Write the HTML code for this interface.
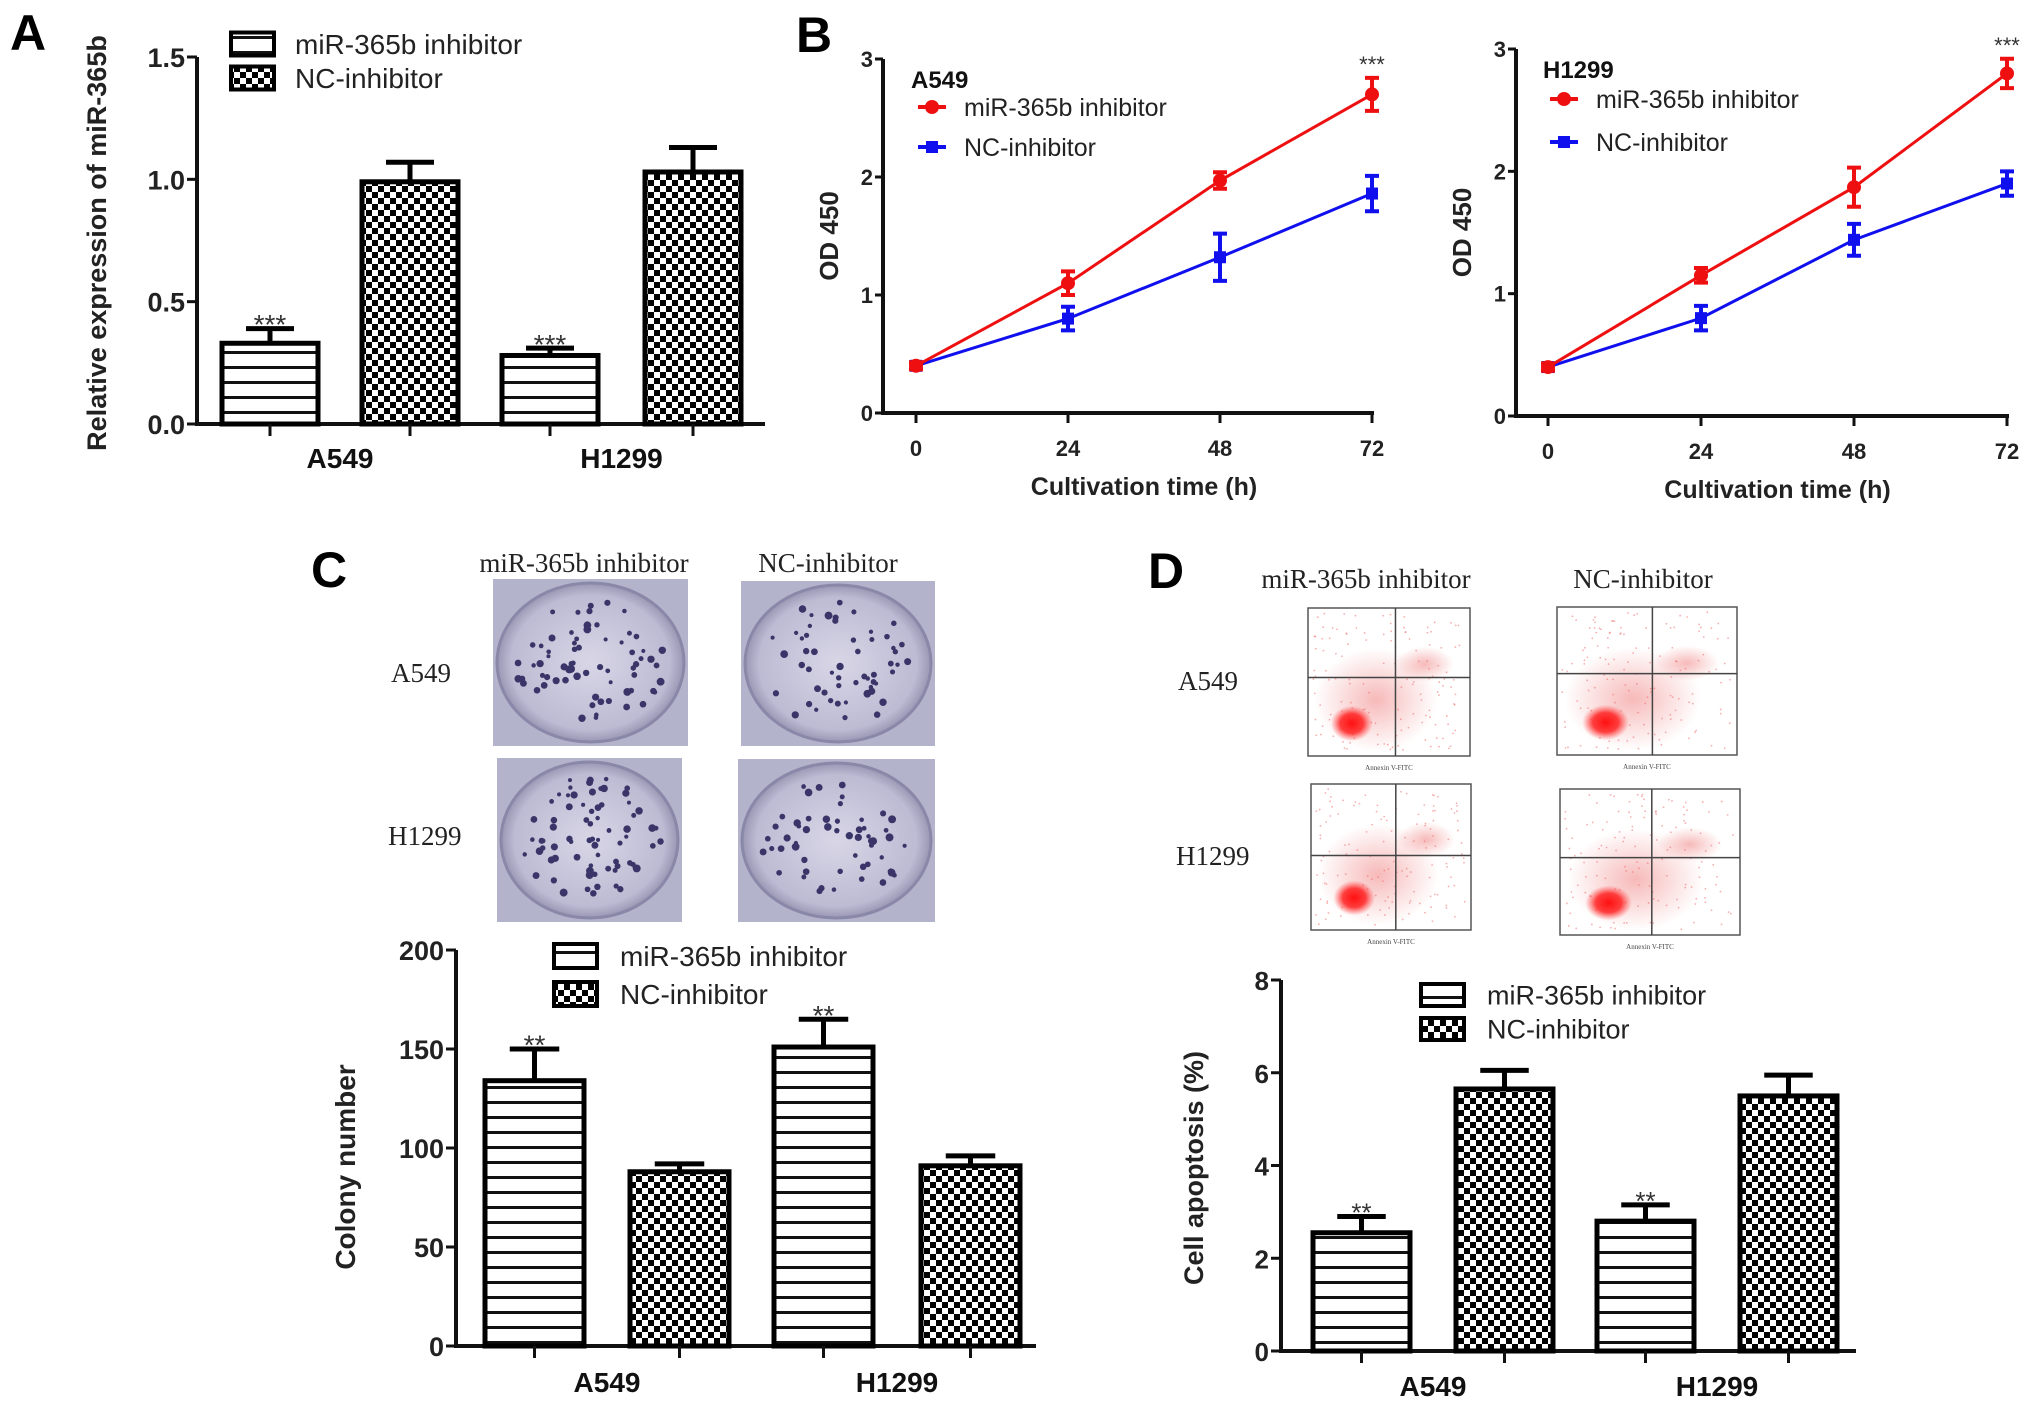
<!DOCTYPE html>
<html><head><meta charset="utf-8"><style>
body{margin:0;background:#fff;}
svg{display:block;font-family:"Liberation Sans",Arial,sans-serif;}
.lab{font-weight:bold;}
.serif{font-family:"Liberation Serif",serif;}
</style></head><body>
<svg id="fig" width="2031" height="1407" viewBox="0 0 2031 1407">
<defs>
<pattern id="hstripe" width="10" height="15" patternUnits="userSpaceOnUse"><rect width="10" height="15" fill="#fff"/><rect y="6" width="10" height="3" fill="#111"/></pattern>
<pattern id="check" width="12" height="12" patternUnits="userSpaceOnUse"><rect width="12" height="12" fill="#fff"/><rect width="6" height="6" fill="#000"/><rect x="6" y="6" width="6" height="6" fill="#000"/></pattern>
<radialGradient id="blob"><stop offset="0" stop-color="#ff1010"/><stop offset="0.55" stop-color="#ff2a2a" stop-opacity="0.9"/><stop offset="1" stop-color="#ff5050" stop-opacity="0"/></radialGradient>
<radialGradient id="haze"><stop offset="0" stop-color="#f08080" stop-opacity="0.55"/><stop offset="1" stop-color="#f08080" stop-opacity="0"/></radialGradient>
<radialGradient id="plate"><stop offset="0" stop-color="#d8d6e6"/><stop offset="0.85" stop-color="#bdbbd3"/><stop offset="1" stop-color="#9896b2"/></radialGradient>
</defs>
<g id="root"></g>
</svg>
<script>
// ---------- data ----------
const barCategories = ["A549", "H1299"];
const barSeries = ["miR-365b inhibitor", "NC-inhibitor"];
const aInhibitor = [0.33, 0.28];
const aInhibitorErr = [0.06, 0.03];
const aNC = [0.99, 1.03];
const aNCErr = [0.08, 0.10];
const aTicks = [0.0, 0.5, 1.0, 1.5];
const aTickLabels = ["0.0", "0.5", "1.0", "1.5"];
const aStars = ["***", "***"];

const cInhibitor = [134, 151];
const cInhibitorErr = [16, 14];
const cNC = [88, 91];
const cNCErr = [4, 5];
const cTicks = [0, 50, 100, 150, 200];
const cStars = ["**", "**"];

const dInhibitor = [2.55, 2.8];
const dInhibitorErr = [0.35, 0.35];
const dNC = [5.65, 5.5];
const dNCErr = [0.4, 0.45];
const dTicks = [0, 2, 4, 6, 8];
const dStars = ["**", "**"];

const timePoints = [0, 24, 48, 72];
const odTicks = [0, 1, 2, 3];
const bA549Inhibitor = [0.4, 1.1, 1.97, 2.7];
const bA549InhibitorErr = [0.03, 0.1, 0.07, 0.14];
const bA549NC = [0.4, 0.8, 1.32, 1.86];
const bA549NCErr = [0.03, 0.1, 0.2, 0.15];
const bH1299Inhibitor = [0.4, 1.15, 1.87, 2.8];
const bH1299InhibitorErr = [0.03, 0.06, 0.16, 0.12];
const bH1299NC = [0.4, 0.8, 1.44, 1.9];
const bH1299NCErr = [0.03, 0.1, 0.13, 0.1];

// ---------- helpers ----------
const NS = "http://www.w3.org/2000/svg";
const root = document.getElementById("root");
function mk(tag, attrs, parent, text){
  const e = document.createElementNS(NS, tag);
  for (const k in attrs) e.setAttribute(k, attrs[k]);
  if (text !== undefined) e.textContent = text;
  (parent || root).appendChild(e);
  return e;
}

function barChart(o){
  const g = mk("g", {});
  
  
  const y = v => o.y0 - (v - o.ymin) / (o.ymax - o.ymin) * (o.y0 - o.ytop);
  const ax = mk("path", {d:`M${o.x0} ${o.ytop} V${o.y0} H${o.xend}`, stroke:"#111", "stroke-width":4, fill:"none"}, g);
  
  
  o.ticks.forEach((t, i) => {
    const yy = y(t);
    const tk = mk("line", {x1:o.x0 - 10, x2:o.x0, y1:yy, y2:yy, stroke:"#111", "stroke-width":3}, g);
    
    
    const tl = mk("text", {x:o.x0 - 12, y:yy + 10, "text-anchor":"end", "font-size":o.tickFs, class:"lab", fill:"#222"}, g, o.tickLabels ? o.tickLabels[i] : String(t));
    
    
  });
  const series = [[o.s1, o.e1, "url(#hstripe)"], [o.s2, o.e2, "url(#check)"]];
  o.cats.forEach((c, ci) => {
    series.forEach((s, si) => {
      const xl = o.barX[ci * 2 + si];
      const cx = xl + o.bw / 2;
      const top = y(s[0][ci]), et = y(s[0][ci] + s[1][ci]);
      const bar = mk("rect", {x:xl, y:top, width:o.bw, height:o.y0 - top, fill:s[2], stroke:"#000", "stroke-width":5}, g);
      
      
      const eb = mk("path", {d:`M${cx} ${top} V${et} M${cx - o.bw * 0.25} ${et} H${cx + o.bw * 0.25}`, stroke:"#000", "stroke-width":5, fill:"none"}, g);
      
      
      const xt = mk("line", {x1:cx, x2:cx, y1:o.y0, y2:o.y0 + 12, stroke:"#111", "stroke-width":3}, g);
      
      
      if (si === 0) {
        const st = mk("text", {x:cx, y:et + o.starFs * 0.2, "text-anchor":"middle", "font-size":o.starFs, fill:"#333"}, g, o.stars[ci]);
        
        
      }
    });
    const cl = mk("text", {x:(o.barX[ci * 2] + o.barX[ci * 2 + 1] + o.bw) / 2, y:o.catY, "text-anchor":"middle", "font-size":o.catFs, class:"lab", fill:"#111"}, g, c);
    
    
  });
  [["url(#hstripe)", barSeries[0]], ["url(#check)", barSeries[1]]].forEach((l, i) => {
    const ly = o.legY[i];
    const lb = mk("rect", {x:o.legX, y:ly - o.legH / 2, width:o.legW, height:o.legH, fill:l[0], stroke:"#000", "stroke-width":4}, g);
    
    
    const lt = mk("text", {x:o.legTX, y:ly + o.legFs * 0.36, "font-size":o.legFs, fill:"#222"}, g, l[1]);
    
    
  });
  const yt = mk("text", {transform:`translate(${o.titleX},${o.titleY}) rotate(-90)`, "text-anchor":"middle", "font-size":o.titleFs, class:"lab", fill:"#222"}, g, o.title);
  
  
}

function lineChart(o){
  const g = mk("g", {});
  
  
  const X = t => o.xa + (t - 0) / 72 * (o.xb - o.xa);
  const Y = v => o.y0 - v / 3 * (o.y0 - o.y3);
  const ax = mk("path", {d:`M${o.axX} ${o.y3} V${o.y0} H${o.xb + 2}`, stroke:"#111", "stroke-width":4, fill:"none"}, g);
  
  
  odTicks.forEach(t => {
    const tk = mk("line", {x1:o.axX - 8, x2:o.axX, y1:Y(t), y2:Y(t), stroke:"#111", "stroke-width":3}, g);
    
    
    const tl = mk("text", {x:o.axX - 10, y:Y(t) + 8, "text-anchor":"end", "font-size":22, class:"lab", fill:"#222"}, g, String(t));
    
    
  });
  timePoints.forEach(t => {
    const tk = mk("line", {x1:X(t), x2:X(t), y1:o.y0, y2:o.y0 + 10, stroke:"#111", "stroke-width":3}, g);
    
    
    const tl = mk("text", {x:X(t), y:o.y0 + 43, "text-anchor":"middle", "font-size":22, class:"lab", fill:"#222"}, g, String(t));
    
    
  });
  [[o.nc, o.ncE, "#1010ee", "nc"], [o.inh, o.inhE, "#ee1010", "inhibitor"]].forEach(s => {
    const pts = timePoints.map((t, i) => X(t) + "," + Y(s[0][i])).join(" ");
    const pl = mk("polyline", {points:pts, fill:"none", stroke:s[2], "stroke-width":3}, g);
    
    
    timePoints.forEach((t, i) => {
      const cx = X(t), v = s[0][i], e = s[1][i];
      const eb = mk("path", {d:`M${cx} ${Y(v - e)} V${Y(v + e)} M${cx - 7} ${Y(v - e)} H${cx + 7} M${cx - 7} ${Y(v + e)} H${cx + 7}`, stroke:s[2], "stroke-width":4, fill:"none"}, g);
      
      
      let m;
      if (s[3] === "nc") m = mk("rect", {x:cx - 6, y:Y(v) - 6, width:12, height:12, fill:s[2]}, g);
      else m = mk("circle", {cx:cx, cy:Y(v), r:7, fill:s[2]}, g);
      
      
    });
  });
  const st = mk("text", {x:X(72), y:Y(o.inh[3] + o.inhE[3]) - 6, "text-anchor":"middle", "font-size":22, fill:"#333"}, g, "***");
  
  
  const cl = mk("text", {x:o.xa - 5, y:o.labelY, "font-size":24, class:"lab", fill:"#111"}, g, o.cell);
  
  
  [["#ee1010", "miR-365b inhibitor", 0], ["#1010ee", "NC-inhibitor", 1]].forEach(l => {
    const ly = o.legY[l[2]];
    const ln = mk("line", {x1:o.xa + 2, x2:o.xa + 30, y1:ly, y2:ly, stroke:l[0], "stroke-width":4}, g);
    
    
    const mm = l[2] ? mk("rect", {x:o.xa + 10, y:ly - 6, width:12, height:12, fill:l[0]}, g) : mk("circle", {cx:o.xa + 16, cy:ly, r:7, fill:l[0]}, g);
    
    
    const lt = mk("text", {x:o.xa + 48, y:ly + 9, "font-size":25, fill:"#222"}, g, l[1]);
    
    
  });
  const xt = mk("text", {x:(o.xa + o.xb) / 2, y:o.y0 + 82, "text-anchor":"middle", "font-size":25, class:"lab", fill:"#222"}, g, "Cultivation time (h)");
  
  
  const yt = mk("text", {transform:`translate(${o.axX - 45},${(o.y0 + o.y3) / 2}) rotate(-90)`, "text-anchor":"middle", "font-size":26, class:"lab", fill:"#222"}, g, "OD 450");
  
  
}

function panelLetter(t, x, y){
  const e = mk("text", {x:x, y:y, "font-size":50, class:"lab", fill:"#000"}, root, t);
  
  
}
function serifText(t, x, y, fs, anchor, name){
  const e = mk("text", {x:x, y:y, "font-size":fs, class:"serif", fill:"#222", "text-anchor":anchor || "start"}, root, t);
  
  
}

let seed = 7;
function rnd(){ seed = (seed * 9301 + 49297) % 233280; return seed / 233280; }

function plate(x, y, w, h, n, name){
  const g = mk("g", {});
  
  
  mk("rect", {x:x, y:y, width:w, height:h, fill:"#b4b3cc"}, g);
  mk("ellipse", {cx:x + w / 2, cy:y + h / 2, rx:w / 2 - 4, ry:h / 2 - 4, fill:"url(#plate)", stroke:"#8a88a8", "stroke-width":3}, g);
  for (let i = 0; i < n; i++) {
    const a = rnd() * Math.PI * 2, r = Math.sqrt(rnd()) * 0.85;
    mk("circle", {cx:x + w / 2 + Math.cos(a) * r * (w / 2 - 8), cy:y + h / 2 + Math.sin(a) * r * (h / 2 - 8), r:2 + rnd() * 2, fill:"#3a3568"}, g);
  }
}
function flow(x, y, w, h, qx, qy, name){
  const g = mk("g", {});
  
  
  mk("rect", {x:x, y:y, width:w, height:h, fill:"#fff", stroke:"#555", "stroke-width":1.5}, g);
  mk("ellipse", {cx:x + w * 0.42, cy:y + h * 0.62, rx:w * 0.38, ry:h * 0.35, fill:"url(#haze)"}, g);
  mk("ellipse", {cx:x + w * 0.72, cy:y + h * 0.38, rx:w * 0.18, ry:h * 0.12, fill:"url(#haze)"}, g);
  for (let i = 0; i < 140; i++) {
    mk("circle", {cx:x + 5 + rnd() * (w - 10), cy:y + 5 + rnd() * (h - 10), r:0.9, fill:"#f06060", opacity:0.5}, g);
  }
  mk("ellipse", {cx:x + w * 0.27, cy:y + h * 0.78, rx:w * 0.13, ry:h * 0.12, fill:"url(#blob)"}, g);
  mk("line", {x1:x + w * qx, x2:x + w * qx, y1:y, y2:y + h, stroke:"#444", "stroke-width":1.5}, g);
  mk("line", {x1:x, x2:x + w, y1:y + h * qy, y2:y + h * qy, stroke:"#444", "stroke-width":1.5}, g);
  mk("text", {x:x + w / 2, y:y + h + 14, "text-anchor":"middle", "font-size":7, class:"serif", fill:"#444"}, g, "Annexin V-FITC");
}

// ---------- Panel A ----------
panelLetter("A", 10, 50);
barChart({name:"panel-a-chart", cats:barCategories, s1:aInhibitor, e1:aInhibitorErr, s2:aNC, e2:aNCErr,
  x0:197, xend:765, y0:424, ytop:57, ymin:0, ymax:1.5, ticks:aTicks, tickLabels:aTickLabels, tickFs:27,
  barX:[222, 362, 502, 645], bw:96, stars:aStars, starFs:28, catY:468, catFs:28,
  legX:231, legW:43, legH:23, legY:[44, 78], legTX:295, legFs:28,
  title:"Relative expression of miR-365b", titleX:106, titleY:243, titleFs:27});

// ---------- Panel B ----------
panelLetter("B", 796, 52);
lineChart({name:"panel-b-a549-chart", cell:"A549", axX:883, xa:916, xb:1372, y0:413, y3:59,
  inh:bA549Inhibitor, inhE:bA549InhibitorErr, nc:bA549NC, ncE:bA549NCErr, labelY:88, legY:[107, 147]});
lineChart({name:"panel-b-h1299-chart", cell:"H1299", axX:1516, xa:1548, xb:2007, y0:416, y3:49,
  inh:bH1299Inhibitor, inhE:bH1299InhibitorErr, nc:bH1299NC, ncE:bH1299NCErr, labelY:78, legY:[99, 142]});

// ---------- Panel C ----------
panelLetter("C", 311, 587);
serifText("miR-365b inhibitor", 584, 572, 27, "middle", "column-label-inhibitor");
serifText("NC-inhibitor", 828, 572, 27, "middle", "column-label-nc");
serifText("A549", 391, 682, 27, "start", "row-label-a549");
serifText("H1299", 388, 845, 27, "start", "row-label-h1299");
plate(493, 579, 195, 167, 70, "colony-plate-a549-inhibitor");
plate(741, 581, 194, 165, 55, "colony-plate-a549-nc");
plate(497, 758, 185, 164, 75, "colony-plate-h1299-inhibitor");
plate(738, 759, 197, 163, 55, "colony-plate-h1299-nc");
barChart({name:"panel-c-chart", cats:barCategories, s1:cInhibitor, e1:cInhibitorErr, s2:cNC, e2:cNCErr,
  x0:456, xend:1036, y0:1346, ytop:950, ymin:0, ymax:200, ticks:cTicks, tickFs:27,
  barX:[485, 630, 774, 921], bw:99, stars:cStars, starFs:28, catY:1392, catFs:28,
  legX:554, legW:43, legH:24, legY:[956, 994], legTX:620, legFs:28,
  title:"Colony number", titleX:355, titleY:1167, titleFs:28});

// ---------- Panel D ----------
panelLetter("D", 1148, 588);
serifText("miR-365b inhibitor", 1366, 588, 27, "middle", "column-label-inhibitor");
serifText("NC-inhibitor", 1643, 588, 27, "middle", "column-label-nc");
serifText("A549", 1178, 690, 27, "start", "row-label-a549");
serifText("H1299", 1176, 865, 27, "start", "row-label-h1299");
flow(1308, 608, 162, 148, 0.54, 0.47, "flow-plot-a549-inhibitor");
flow(1557, 607, 180, 148, 0.53, 0.45, "flow-plot-a549-nc");
flow(1311, 784, 160, 146, 0.53, 0.49, "flow-plot-h1299-inhibitor");
flow(1560, 789, 180, 146, 0.51, 0.47, "flow-plot-h1299-nc");
barChart({name:"panel-d-chart", cats:barCategories, s1:dInhibitor, e1:dInhibitorErr, s2:dNC, e2:dNCErr,
  x0:1281, xend:1856, y0:1351, ytop:980, ymin:0, ymax:8, ticks:dTicks, tickFs:26,
  barX:[1313, 1456, 1597, 1740], bw:97, stars:dStars, starFs:26, catY:1396, catFs:28,
  legX:1421, legW:43, legH:22, legY:[995, 1029], legTX:1487, legFs:27,
  title:"Cell apoptosis (%)", titleX:1203, titleY:1168, titleFs:27});
</script>
</body></html>
